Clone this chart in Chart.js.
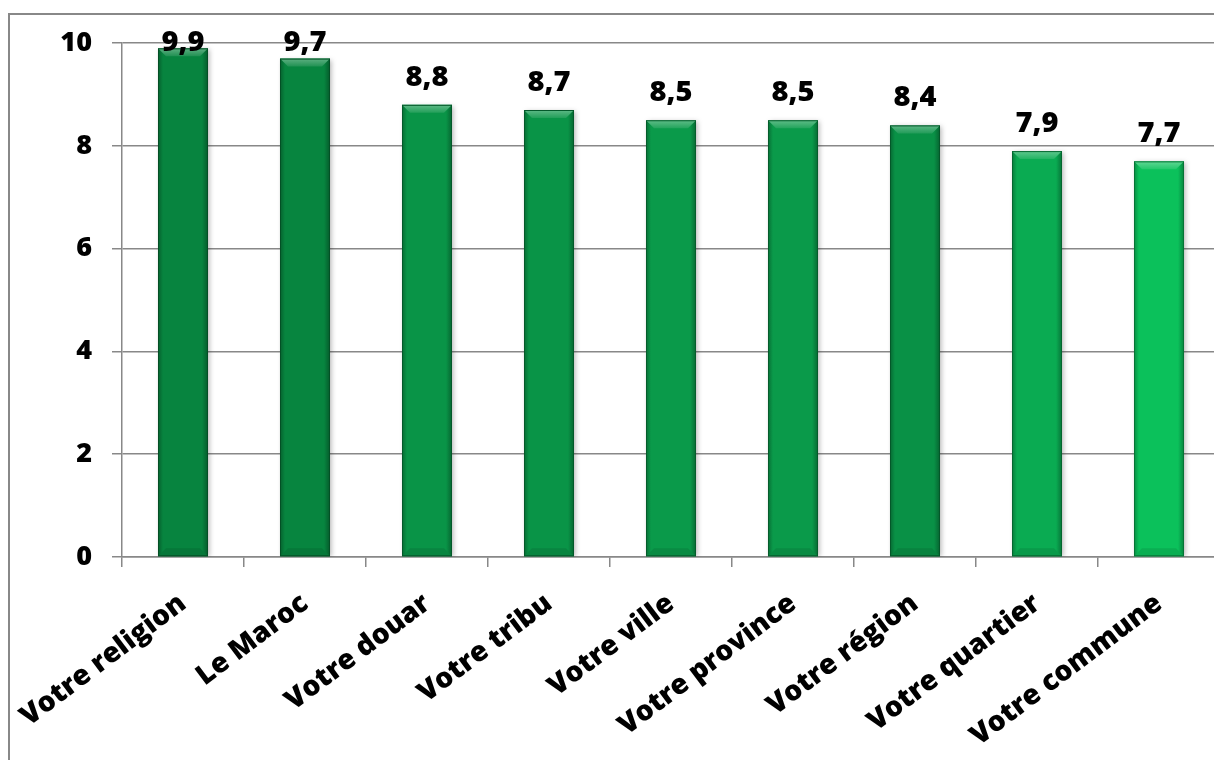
<!DOCTYPE html>
<html>
<head>
<meta charset="utf-8">
<script src="https://cdn.jsdelivr.net/npm/chart.js@4.4.1/dist/chart.umd.min.js"></script>
<style>
  html, body { margin: 0; padding: 0; background: #fff; overflow: hidden; }
  #frame {
    position: absolute; left: 8px; top: 13px;
    width: 1300px; height: 800px;
    border-left: 2px solid #888; border-top: 2px solid #888;
  }
  #scoreChart { position: absolute; left: 10px; top: 7px; }
</style>
</head>
<body>
<div id="frame"></div>
<canvas id="scoreChart" width="1212" height="753"></canvas>
<script>
// categories and mean scores (0-10)
const places = ['Votre religion', 'Le Maroc', 'Votre douar', 'Votre tribu', 'Votre ville',
                'Votre province', 'Votre région', 'Votre quartier', 'Votre commune'];
const scores = [9.9, 9.7, 8.8, 8.7, 8.5, 8.5, 8.4, 7.9, 7.7];
const yTicks = [0, 2, 4, 6, 8, 10];

// fill colour of each bar, dark to light green
const barColors = ['#07843f', '#07853f', '#099447', '#099447', '#0a9a4a',
                   '#0a9a4a', '#099146', '#0aab52', '#0bc15b'];

const BAR_PCT = 0.41;
const FONT = '"Open Sans", "DejaVu Sans", sans-serif';

//  shade a hex colour by a factor (<1 darker, >1 lighter)
function shade(hex, f) {
  const n = parseInt(hex.slice(1), 16);
  const ch = [(n >> 16) & 255, (n >> 8) & 255, n & 255].map(c => {
    const v = f < 1 ? c * f : c + (255 - c) * (f - 1);
    return Math.round(Math.min(255, Math.max(0, v)));
  });
  return 'rgb(' + ch.join(',') + ')';
}

//  horizontal gradient so the bar edges look rounded
function barFill(ctx) {
  const chart = ctx.chart;
  const base = barColors[ctx.dataIndex];
  const xs = chart.scales.x;
  if (!xs || !chart.chartArea) return base;
  const cx = xs.getPixelForValue(ctx.dataIndex);
  const half = xs.width / places.length * BAR_PCT / 2;
  const g = chart.ctx.createLinearGradient(cx - half, 0, cx + half, 0);
  g.addColorStop(0, shade(base, 0.72));
  g.addColorStop(0.1, base);
  g.addColorStop(0.88, base);
  g.addColorStop(1, shade(base, 0.68));
  return g;
}

//  soft drop shadow under the bars
const barShadow = {
  id: 'barShadow',
  beforeDatasetsDraw(chart) {
    const c = chart.ctx;
    c.save();
    c.shadowColor = 'rgba(0,0,0,0.28)';
    c.shadowBlur = 5;
    c.shadowOffsetX = 2;
    c.shadowOffsetY = 1;
  },
  afterDatasetsDraw(chart) {
    chart.ctx.restore();
  }
};

//  bevel on top of every bar + value label above it
const barDecor = {
  id: 'barDecor',
  afterDatasetsDraw(chart) {
    const c = chart.ctx;
    const meta = chart.getDatasetMeta(0);
    meta.data.forEach((bar, i) => {
      const left = bar.x - bar.width / 2;
      const right = bar.x + bar.width / 2;
      const b = 8;
      c.save();
      const g = c.createLinearGradient(0, bar.y, 0, bar.y + b);
      g.addColorStop(0, shade(barColors[i], 1.35));
      g.addColorStop(1, shade(barColors[i], 1.1));
      c.fillStyle = g;
      c.beginPath();
      c.moveTo(left, bar.y);
      c.lineTo(right, bar.y);
      c.lineTo(right - b, bar.y + b);
      c.lineTo(left + b, bar.y + b);
      c.closePath();
      c.fill();
      c.fillStyle = shade(barColors[i], 0.9);
      c.beginPath();
      c.moveTo(left, bar.base);
      c.lineTo(right, bar.base);
      c.lineTo(right - b, bar.base - b);
      c.lineTo(left + b, bar.base - b);
      c.closePath();
      c.fill();
      c.strokeStyle = shade(barColors[i], 0.6);
      c.lineWidth = 1;
      c.strokeRect(left + 0.5, bar.y + 0.5, bar.width - 1, bar.base - bar.y - 1);

      // value label, kept inside the top of the canvas
      c.fillStyle = '#000';
      c.font = '800 29px ' + FONT;
      c.textAlign = 'center';
      c.textBaseline = 'alphabetic';
      const y = Math.max(bar.y - 19, 44);
      c.fillText(scores[i].toFixed(1).replace('.', ','), bar.x, y);
      c.restore();
    });
  }
};

const scoreChart = new Chart(document.getElementById('scoreChart').getContext('2d'), {
  type: 'bar',
  data: {
    labels: places,
    datasets: [{
      data: scores,
      backgroundColor: barFill,
      borderWidth: 0,
      categoryPercentage: 1,
      barPercentage: BAR_PCT
    }]
  },
  options: {
    responsive: false,
    devicePixelRatio: 1,
    animation: false,
    layout: { padding: { top: 27, right: 2, left: 0, bottom: 0 } },
    plugins: {
      legend: { display: false },
      tooltip: { enabled: false }
    },
    scales: {
      x: {
        offset: true,
        grid: {
          offset: true,
          drawOnChartArea: false,
          tickLength: 10,
          color: '#888',
          lineWidth: 1.5
        },
        border: { color: '#888', width: 1.5 },
        ticks: {
          maxRotation: 37,
          minRotation: 37,
          autoSkip: false,
          padding: 20,
          color: '#000',
          font: { family: FONT, size: 28, weight: 800 }
        },
        // rotated labels may run under the y axis, keep the plot edges fixed
        afterFit: scale => {
          scale.height = 203;
          scale.paddingLeft = 0;
          scale.paddingRight = 0;
        }
      },
      y: {
        min: 0,
        max: 10,
        afterBuildTicks: scale => { scale.ticks = yTicks.map(v => ({ value: v })); },
        grid: { color: '#888', lineWidth: 1.5, tickLength: 10 },
        border: { color: '#888', width: 1.5 },
        ticks: {
          padding: 20,
          color: '#000',
          font: { family: FONT, size: 27, weight: 800 }
        },
        afterFit: scale => { scale.width = 112; }
      }
    }
  },
  plugins: [barShadow, barDecor]
});
</script>
</body>
</html>
